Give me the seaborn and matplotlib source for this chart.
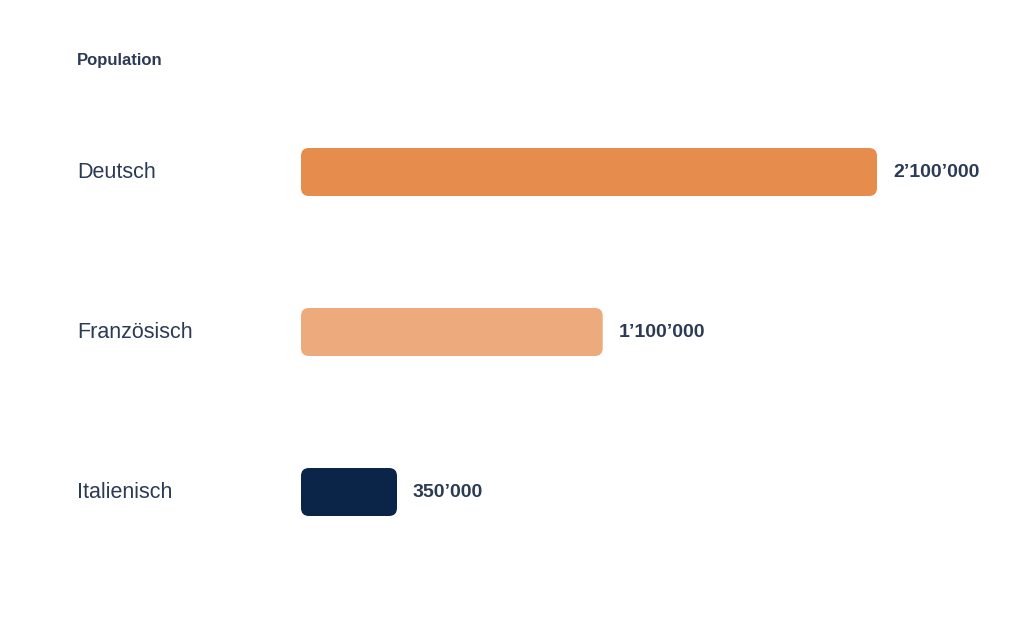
import matplotlib
matplotlib.use("Agg")
import matplotlib.pyplot as plt
import seaborn as sns
import pandas as pd
from matplotlib.patches import FancyBboxPatch

categories = ["Deutsch", "Französisch", "Italienisch"]
values = [2100000, 1100000, 350000]
value_labels = ["2’100’000", "1’100’000", "350’000"]
colors = ["#FF8833", "#FFA66B", "#002452"]
title = "Population"

sns.set_theme(style="white")
plt.rcParams['font.family'] = ['Liberation Sans', 'DejaVu Sans']
txt = "#2B3A55"

df = pd.DataFrame({"cat": categories, "val": values})
fig = plt.figure(figsize=(10.24, 6.4), dpi=100)
ax = fig.add_axes([301/1024, 1-572/640, 576/1024, 480/640])
sns.barplot(data=df, x="val", y="cat", hue="cat", palette=colors, width=0.3,
            legend=False, ax=ax)
ax.set_xlim(0, 2100000)
ax.set_ylim(2.5, -0.5)

for p in list(ax.patches):
    x, y, w, h = p.get_x(), p.get_y(), p.get_width(), p.get_height()
    fc = p.get_facecolor()
    p.remove()
    fb = FancyBboxPatch((x, y), w, h, boxstyle="round,pad=0,rounding_size=0.045",
                        mutation_aspect=1/ (576/2100000) * (160/1) / 1e0 * 0 + 1,
                        fc=fc, ec="none", clip_on=False)
    ax.add_patch(fb)

# re-set rounding with proper aspect in data units
for fb in ax.patches:
    # rounding_size in x data units; convert via aspect
    fb.set_boxstyle("round", pad=0, rounding_size=8 * 2100000 / 576)
    fb.set_mutation_aspect((160 / 1) / (576 / 2100000) ** -1 if False else (1/160) / (2100000/576))

for i, (v, lab) in enumerate(zip(values, value_labels)):
    ax.text(v + 16 * 2100000 / 576, i, lab, va="center", ha="left",
            fontsize=14, fontweight="bold", color=txt, clip_on=False)

for i, c in enumerate(categories):
    fig.text(77/1024, 1 - (172 + 160*i)/640, c, va="center", ha="left",
             fontsize=15.5, color=txt)

fig.text(77/1024, 1 - 60/640, title, va="center", ha="left",
         fontsize=12, fontweight="bold", color=txt)

ax.set_xlabel("")
ax.set_ylabel("")
ax.set_xticks([])
ax.set_yticks([])
sns.despine(ax=ax, left=True, bottom=True)
fig.savefig("out.png", dpi=100)
